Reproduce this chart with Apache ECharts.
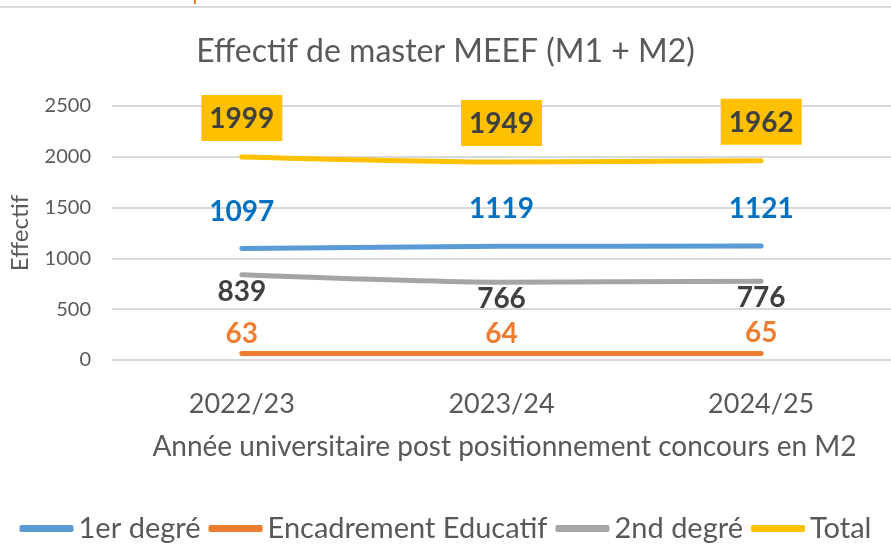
<!DOCTYPE html>
<html>
<head>
<meta charset="utf-8">
<script src="https://cdn.jsdelivr.net/npm/echarts@6/dist/echarts.min.js"></script>
<style>
  html, body { margin: 0; padding: 0; background: #fff; }
  #chart { width: 891px; height: 544px; }
</style>
</head>
<body>
<div id="chart"></div>
<script>
var categories = ['2022/23', '2023/24', '2024/25'];
var premierDegre = [1097, 1119, 1121];
var encadrement = [63, 64, 65];
var secondDegre = [839, 766, 776];
var total = [1999, 1949, 1962];
var yTicks = [0, 500, 1000, 1500, 2000, 2500];

var FONT = 'Lato, "Noto Sans", sans-serif';
var chart = echarts.init(document.getElementById('chart'));

function lineSeries(name, data, color, label) {
  return {
    name: name,
    type: 'line',
    data: data,
    smooth: 0.25,
    symbol: 'circle',
    symbolSize: 0,
    showSymbol: true,
    lineStyle: { color: color, width: 5, cap: 'round' },
    itemStyle: { color: color },
    label: label
  };
}

chart.setOption({
  animation: false,
  backgroundColor: '#fff',
  textStyle: { fontFamily: FONT },
  title: {
    text: 'Effectif de master MEEF (M1 + M2)',
    left: 'center',
    top: 31,
    textStyle: { color: '#595959', fontSize: 32, fontWeight: 'normal', fontFamily: FONT }
  },
  graphic: [
    { type: 'rect', shape: { x: 0, y: 6, width: 891, height: 2 }, style: { fill: '#d9d9d9' } },
    { type: 'rect', shape: { x: 194, y: 0, width: 2, height: 4 }, style: { fill: '#ed7d31' } }
  ],
  legend: {
    bottom: -4,
    left: 'center',
    icon: 'roundRect',
    itemWidth: 54,
    itemHeight: 7,
    itemGap: 8,
    textStyle: { color: '#595959', fontSize: 29, fontFamily: FONT },
    data: ['1er degré', 'Encadrement Educatif', '2nd degré', 'Total']
  },
  grid: { left: 111, width: 788, top: 106, height: 254, containLabel: false },
  xAxis: {
    type: 'category',
    data: categories,
    name: 'Année universitaire post positionnement concours en M2',
    nameLocation: 'middle',
    nameGap: 73,
    nameTextStyle: { color: '#595959', fontSize: 28, fontFamily: FONT, padding: [0, 0, 0, 6] },
    axisLine: { show: false },
    axisTick: { show: false },
    axisLabel: { color: '#595959', fontSize: 27, margin: 31, fontFamily: FONT }
  },
  yAxis: {
    type: 'value',
    min: yTicks[0],
    max: yTicks[yTicks.length - 1],
    interval: 500,
    name: 'Effectif',
    nameLocation: 'middle',
    nameGap: 80,
    nameTextStyle: { color: '#595959', fontSize: 24, fontFamily: FONT },
    axisLine: { show: false },
    axisTick: { show: false },
    axisLabel: {
      color: '#595959', fontSize: 20, margin: 21, fontFamily: FONT,
      formatter: function (v) { return String(v); }
    },
    splitLine: { lineStyle: { color: '#d9d9d9', width: 2 } }
  },
  series: [
    lineSeries('1er degré', premierDegre, '#5b9bd5', {
      show: true, position: 'top', distance: 23,
      color: '#0070c0', fontSize: 28, fontWeight: 'bold', fontFamily: FONT
    }),
    lineSeries('Encadrement Educatif', encadrement, '#ed7d31', {
      show: true, position: 'top', distance: 6,
      color: '#ed7d31', fontSize: 28, fontWeight: 'bold', fontFamily: FONT
    }),
    lineSeries('2nd degré', secondDegre, '#a5a5a5', {
      show: true, position: 'bottom', distance: 3,
      color: '#404040', fontSize: 28, fontWeight: 'bold', fontFamily: FONT
    }),
    lineSeries('Total', total, '#ffc000', {
      show: true, position: 'top', distance: 16,
      color: '#404040', fontSize: 28, fontWeight: 'bold', fontFamily: FONT,
      backgroundColor: '#ffc000', padding: [10, 8, 8, 8]
    })
  ]
});
</script>
</body>
</html>
